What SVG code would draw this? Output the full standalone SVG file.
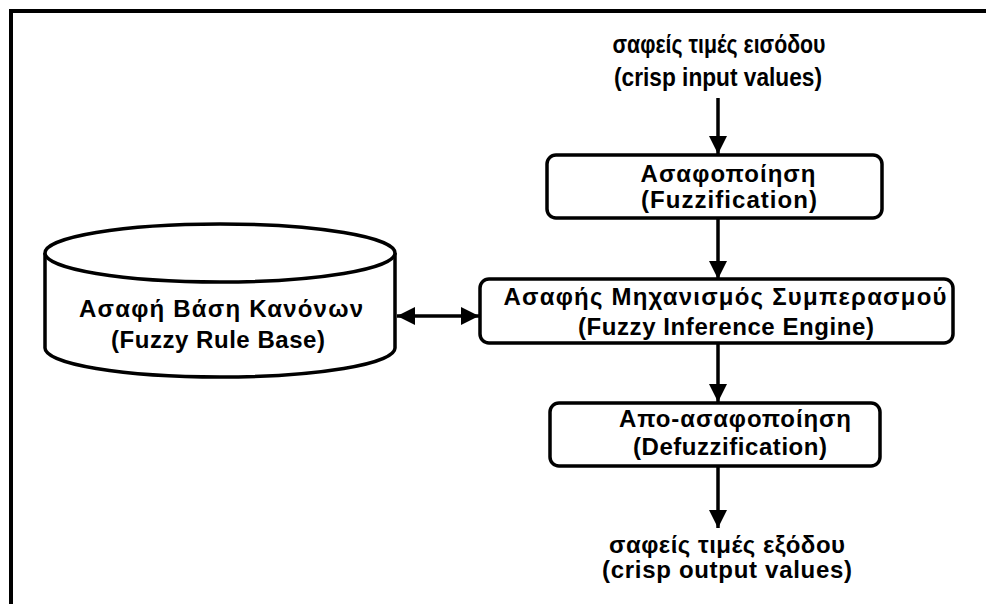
<svg xmlns="http://www.w3.org/2000/svg" width="986" height="604" viewBox="0 0 986 604">
<style>
.box{fill:#fff;stroke:#000;stroke-width:3.5}
.t{font-family:"Liberation Sans",Arial,sans-serif;font-weight:bold;font-size:24px;text-anchor:middle;fill:#000}
.n{font-family:"Liberation Sans",Arial,sans-serif;font-weight:bold;font-size:25px;text-anchor:middle;fill:#000}
.c{stroke:#000;stroke-width:3.5;fill:none}
</style>
<defs>
<marker id="ah" viewBox="0 0 10 10" refX="10" refY="5" markerWidth="5.2" markerHeight="6" markerUnits="strokeWidth" orient="auto-start-reverse">
<path d="M0,0 L10,5 L0,10 Z" fill="#000"/>
</marker>
</defs>
<rect x="0" y="0" width="986" height="604" fill="#fff"/>
<path d="M11,610 V11 H990" fill="none" stroke="#000" stroke-width="4"/>
<g id="connectors">
<line class="c" x1="718" y1="98" x2="718" y2="154" marker-end="url(#ah)"/>
<line class="c" x1="718" y1="218" x2="718" y2="279" marker-end="url(#ah)"/>
<line class="c" x1="718" y1="343" x2="718" y2="402" marker-end="url(#ah)"/>
<line class="c" x1="718" y1="466" x2="718" y2="528" marker-end="url(#ah)"/>
<line class="c" x1="397" y1="316" x2="479" y2="316" marker-start="url(#ah)" marker-end="url(#ah)"/>
</g>
<g id="input">
<text class="n" x="719" y="53" textLength="213" lengthAdjust="spacingAndGlyphs">σαφείς τιμές εισόδου</text>
<text class="n" x="718" y="86" textLength="208" lengthAdjust="spacingAndGlyphs">(crisp input values)</text>
</g>
<g id="fuzzification">
<rect class="box" x="547" y="155" width="335" height="63" rx="9"/>
<text class="t" x="728" y="182" textLength="175" lengthAdjust="spacing">Ασαφοποίηση</text>
<text class="t" x="729" y="208" textLength="176" lengthAdjust="spacing">(Fuzzification)</text>
</g>
<g id="inference">
<rect class="box" x="480" y="279" width="473" height="64" rx="9"/>
<text class="t" x="725" y="305" textLength="443" lengthAdjust="spacing">Ασαφής Μηχανισμός Συμπερασμού</text>
<text class="t" x="726" y="335" textLength="296" lengthAdjust="spacing">(Fuzzy Inference Engine)</text>
</g>
<g id="defuzzification">
<rect class="box" x="550" y="403" width="330" height="63" rx="9"/>
<text class="t" x="735" y="427" textLength="232" lengthAdjust="spacing">Απο-ασαφοποίηση</text>
<text class="t" x="730" y="455" textLength="194" lengthAdjust="spacing">(Defuzzification)</text>
</g>
<g id="rulebase">
<path class="box" d="M45,253 V348 A175,29 0 0 0 395,348 V253"/>
<ellipse class="box" cx="220" cy="253" rx="175" ry="29"/>
<text class="t" x="221" y="317" textLength="284" lengthAdjust="spacing">Ασαφή Βάση Κανόνων</text>
<text class="t" x="218" y="348" textLength="214" lengthAdjust="spacing">(Fuzzy Rule Base)</text>
</g>
<g id="output">
<text class="t" x="727" y="553" textLength="236" lengthAdjust="spacing">σαφείς τιμές εξόδου</text>
<text class="t" x="727" y="578" textLength="250" lengthAdjust="spacing">(crisp output values)</text>
</g>
</svg>
